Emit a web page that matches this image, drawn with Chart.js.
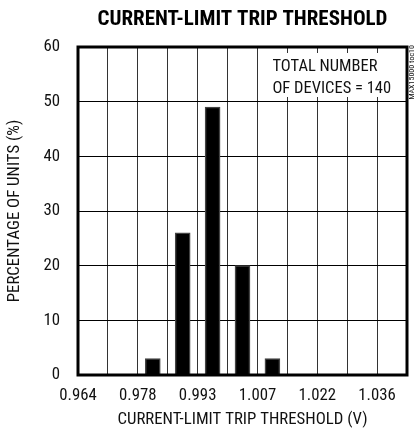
<!DOCTYPE html>
<html>
<head>
<meta charset="utf-8">
<script src="https://cdn.jsdelivr.net/npm/chart.js@4"></script>
<style>
  html, body { margin: 0; padding: 0; background: #fff; }
  #wrap { width: 418px; height: 433px; }
</style>
</head>
<body>
<div id="wrap"><canvas id="histChart" width="418" height="433"></canvas></div>
<script>
// ─── DATA ─────────────────────────────────────────
const tickLabels  = ['0.964', '0.978', '0.993', '1.007', '1.022', '1.036'];
const binCenters  = [0.9820, 0.9892, 0.9964, 1.0036, 1.0108];   // V
const percentages = [3, 26, 49, 20, 3];                          // % of units
const yTicks      = [0, 10, 20, 30, 40, 50, 60];
const xMin = 0.964, xStep = 0.0072, xLines = 12;

const FONT = "'Roboto Condensed', 'Liberation Sans', sans-serif";

// white box + note in the top right corner, border, side code
const extras = {
  id: 'extras',
  beforeDatasetsDraw(chart) {
    const { ctx, chartArea: a } = chart;
    const xs = chart.scales.x;
    const left = xs.getPixelForValue(xMin + 6 * xStep);
    ctx.save();
    ctx.fillStyle = '#fff';
    ctx.fillRect(left + 1.5, a.top + 6, a.right - left - 3, 44);
    ctx.fillStyle = '#111';
    ctx.font = '16.5px ' + FONT;
    ctx.textBaseline = 'alphabetic';
    ctx.fillText('TOTAL NUMBER', left + 15, a.top + 24);
    ctx.fillText('OF DEVICES = 140', left + 15, a.top + 46);
    ctx.restore();
  },
  afterDraw(chart) {
    const { ctx, chartArea: a } = chart;
    ctx.save();
    ctx.strokeStyle = '#000';
    ctx.lineWidth = 3;
    ctx.strokeRect(a.left, a.top, a.right - a.left, a.bottom - a.top);
    ctx.translate(a.right + 5, a.top - 2);
    ctx.rotate(-Math.PI / 2);
    ctx.font = '8px ' + FONT;
    ctx.fillStyle = '#111';
    ctx.textAlign = 'right';
    ctx.textBaseline = 'middle';
    ctx.fillText('MAX15000 toc10', 0, 0);
    ctx.restore();
  }
};

new Chart(document.getElementById('histChart'), {
  type: 'bar',
  data: {
    datasets: [{
      data: binCenters.map((x, i) => ({ x, y: percentages[i] })),
      backgroundColor: '#000',
      borderColor: '#444',
      borderWidth: 1.5,
      barThickness: 15
    }]
  },
  options: {
    responsive: false,
    animation: false,
    layout: { padding: { left: 0, right: 11, top: 0, bottom: 0 } },
    plugins: {
      legend: { display: false },
      tooltip: { enabled: false },
      title: {
        display: true,
        fullSize: false,
        text: 'CURRENT-LIMIT TRIP THRESHOLD',
        color: '#000',
        font: { family: FONT, size: 21, weight: 'bold' },
        padding: { top: 7, bottom: 14.8 }
      }
    },
    scales: {
      x: {
        type: 'linear',
        min: xMin,
        max: xMin + (xLines - 1) * xStep,
        offset: false,
        afterBuildTicks: s => {
          s.ticks = Array.from({ length: xLines }, (_, i) => ({ value: xMin + i * xStep }));
        },
        afterFit: s => { s.height = 58; },
        grid: { color: '#333', lineWidth: 1, drawTicks: false, offset: false },
        border: { display: false },
        ticks: {
          autoSkip: false, maxRotation: 0, padding: 11, color: '#111',
          font: { family: FONT, size: 16.8 },
          callback: (v, i) => (i % 2 === 0 ? tickLabels[i / 2] : '')
        },
        title: {
          display: true, text: 'CURRENT-LIMIT TRIP THRESHOLD (V)', color: '#111',
          font: { family: FONT, size: 16.8 }, padding: { top: 0, bottom: 3 }
        }
      },
      y: {
        min: 0, max: 60,
        afterBuildTicks: s => { s.ticks = yTicks.map(v => ({ value: v })); },
        afterFit: s => { s.width = 78; },
        grid: { color: '#000', lineWidth: 1, drawTicks: false },
        border: { display: false },
        ticks: { padding: 18, color: '#111', font: { family: FONT, size: 16.8 } },
        title: {
          display: true, text: 'PERCENTAGE OF UNITS (%)', color: '#111',
          font: { family: FONT, size: 16.8 }, padding: { top: 5, bottom: 0 }
        }
      }
    }
  },
  plugins: [extras]
});
</script>
</body>
</html>
